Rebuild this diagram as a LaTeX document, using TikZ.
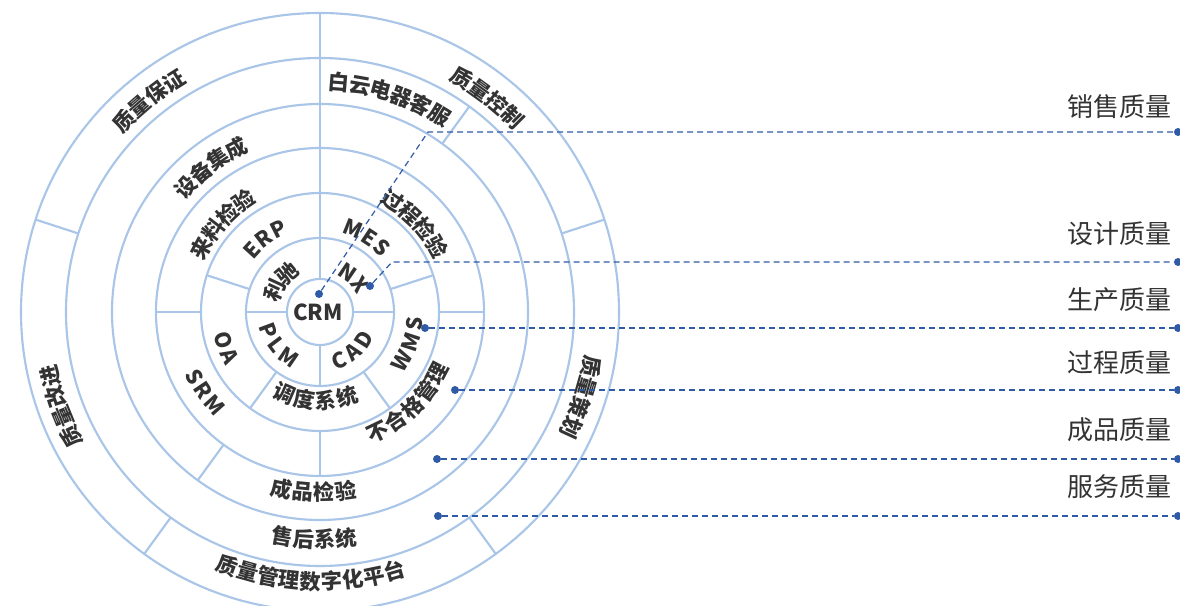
\documentclass[tikz,border=0pt]{standalone}
\usepackage{fontspec}
\setmainfont{Noto Sans CJK SC}
\usetikzlibrary{decorations.text,positioning}

\definecolor{ringblue}{HTML}{A9C5E8}
\definecolor{leadblue}{HTML}{2F5AA6}
\definecolor{labelgray}{HTML}{333333}

\newcommand\ringfont{\color{labelgray}\bfseries\fontsize{16}{16}\selectfont\spaceskip=1.6pt}

% ring labels: cw reads clockwise (tops out), ccw reads counterclockwise (tops in)
\newcommand\cwlabel[3]{%
  \path[decorate,decoration={text along path,text align=center,raise=-5.7pt,
    text={|\ringfont|#3}}] ({#1+80}:#2) arc[start angle={#1+80},end angle={#1-80},radius=#2];}
\newcommand\ccwlabel[3]{%
  \path[decorate,decoration={text along path,text align=center,raise=-5.7pt,
    text={|\ringfont|#3}}] ({#1-80}:#2) arc[start angle={#1-80},end angle={#1+80},radius=#2];}

\begin{document}
\begin{tikzpicture}[%
        x=0.75pt, y=0.75pt,
        ring/.style={draw=ringblue, line width=1.6pt},
        lead/.style={leadblue, line width=0.9pt, dash pattern=on 4.5pt off 3pt},
        dot/.style={circle, fill=leadblue, inner sep=0pt, minimum size=6pt},
        quality/.style={font=\fontsize{19.5}{19.5}\selectfont, text=labelgray, anchor=east, inner sep=0pt}
        ]
        \useasboundingbox (-320,-294) rectangle (860,312);

        % rings
        \foreach \r in {33,74,119,164,208,254,299}
            \draw[ring] (0,0) circle[radius=\r];

        % spokes, ring by ring
        \foreach \a in {0,90,180,270} \draw[ring] (\a:33) -- (\a:74);
        \foreach \a in {18,90,162,234,306} \draw[ring] (\a:74) -- (\a:119);
        \foreach \a in {0,90,180,270} \draw[ring] (\a:119) -- (\a:164);
        \foreach \a in {90,234} \draw[ring] (\a:164) -- (\a:208);
        \foreach \a in {54,90} \draw[ring] (\a:208) -- (\a:254);
        \foreach \a in {18,90,162,234,306} \draw[ring] (\a:254) -- (\a:299);

        \node[font=\bfseries\fontsize{16.5}{16.5}\selectfont, text=labelgray] (crm) at (-2,0) {CRM};

        % labels along the rings
        \cwlabel{129}{273}{质量保证}
        \cwlabel{52}{273}{质量控制}
        \cwlabel{200}{277}{质量改进}
        \cwlabel{342}{276}{质量策划}
        \cwlabel{72}{230}{白云电器客服}
        \cwlabel{127}{183}{设备集成}
        \cwlabel{138}{134}{来料检验}
        \cwlabel{43}{133}{过程检验}
        \cwlabel{127}{92}{E R P}
        \cwlabel{58}{89}{M E S}
        \cwlabel{143}{50}{利驰}
        \cwlabel{46}{48}{N X}

        \ccwlabel{268}{270}{质量管理数字化平台}
        \ccwlabel{268.5}{228}{售后系统}
        \ccwlabel{268}{181}{成品检验}
        \ccwlabel{215}{141}{S R M}
        \ccwlabel{314}{133}{不合格管理}
        \ccwlabel{201}{101}{O A}
        \ccwlabel{267}{89}{调度系统}
        \ccwlabel{340}{96}{W M S}
        \ccwlabel{219}{55}{P L M}
        \ccwlabel{310}{52}{C A D}

        % leads to the quality labels
        \node[dot] (s1) at (-1,18) {};
        \coordinate (k1) at (108,180);
        \node[dot] (e1) at (858,180) {};
        \draw[lead] (s1) -- (k1) -- (e1);
        \node[quality] (q1) at (852,205) {销售质量};

        \node[dot] (s2) at (50,26) {};
        \coordinate (k2) at (72,50);
        \node[dot] (e2) at (858,50) {};
        \draw[lead] (s2) -- (k2) -- (e2);
        \node[quality] (q2) at (852,78) {设计质量};

        \node[dot] (s3) at (105,-16) {};
        \node[dot] (e3) at (858,-16) {};
        \draw[lead] (s3) -- (e3);
        \node[quality] (q3) at (852,12) {生产质量};

        \node[dot] (s4) at (135,-78) {};
        \node[dot] (e4) at (858,-78) {};
        \draw[lead] (s4) -- (e4);
        \node[quality] (q4) at (852,-51) {过程质量};

        \node[dot] (s5) at (117,-147) {};
        \node[dot] (e5) at (858,-147) {};
        \draw[lead] (s5) -- (e5);
        \node[quality] (q5) at (852,-118) {成品质量};

        \node[dot] (s6) at (118,-204) {};
        \node[dot] (e6) at (858,-204) {};
        \draw[lead] (s6) -- (e6);
        \node[quality] (q6) at (852,-175) {服务质量};
\end{tikzpicture}
\end{document}
